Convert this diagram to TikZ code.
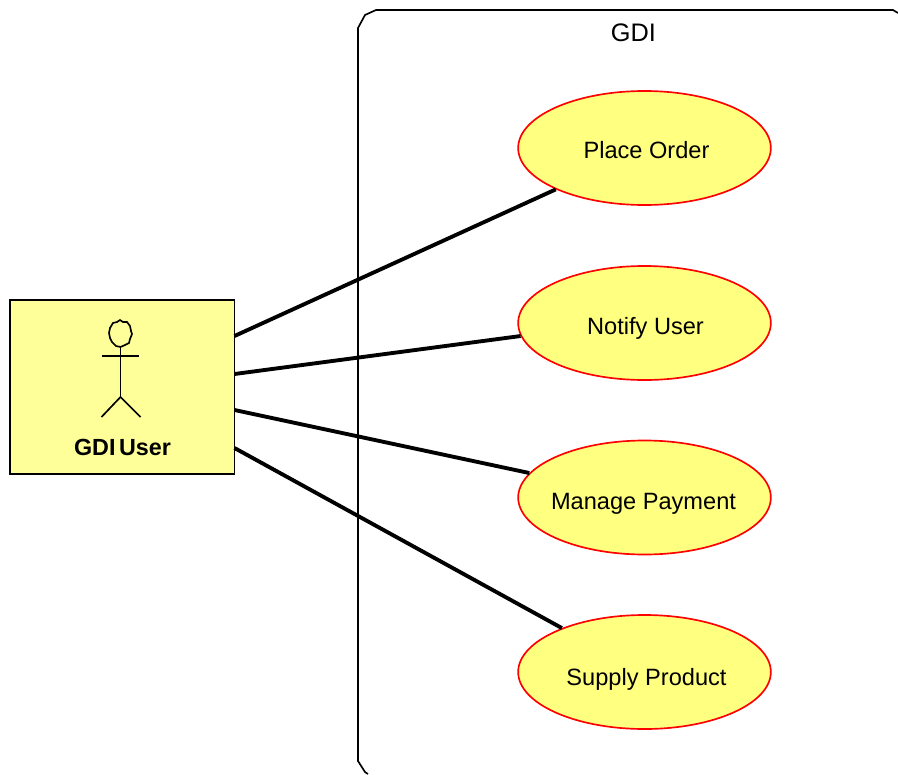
\documentclass[tikz,border=0pt]{standalone}
\usepackage{fontspec}
\setmainfont{Liberation Sans}
\usetikzlibrary{shapes.geometric}
\definecolor{usefill}{RGB}{255,255,128}
\definecolor{actorfill}{RGB}{255,255,153}
\newcommand{\tightwords}{\spaceskip=0.15em\relax}

\tikzset{
    usecase/.style={ellipse, draw=red, line width=1.25pt, fill=usefill,
        minimum width=189.5pt, minimum height=85.5pt, inner sep=0pt},
    actorbox/.style={rectangle, draw=black, line width=0.9pt, fill=actorfill,
        minimum width=168.5pt, minimum height=130.5pt, inner sep=0pt},
    assoc/.style={draw=black, line width=2.9pt},
    frameline/.style={draw=black, line width=1.25pt},
    stick/.style={draw=black, line width=1.25pt},
    textlabel/.style={font=\fontsize{17.7}{22}\selectfont, inner sep=0pt}
}

\begin{document}
\begin{tikzpicture}[x=0.75pt,y=-0.75pt]
    \useasboundingbox (0,0) rectangle (898,774);

    % system frame
    \draw[frameline] (898,13) -- (893,10) -- (376,10) -- (365,15) -- (358,28)
        -- (358,761) -- (365,772) -- (368,774);
    \node[textlabel, font=\fontsize{19}{23}\selectfont] (title) at (633.5,33) {GDI};

    % actor
    \node[actorbox] (user) at (122.25,387) {};
    \node[textlabel, font=\fontsize{17.5}{21}\selectfont\bfseries] (username) at (122.5,447) {\tightwords GDI User};
    \coordinate (neck) at (120.5,347);
    \coordinate (hip) at (120.5,397);
    \draw[stick] (120,320) -- (123,322) -- (127,322) -- (130,326) -- (131,331)
        -- (132,334) -- (130,339) -- (129,343) -- (125,345) -- (neck) -- (116,346)
        -- (112,342) -- (110,338) -- (109,333) -- (110,328) -- (113,323)
        -- (117,322) -- cycle;
    \draw[stick] (neck) -- (hip);
    \draw[stick] (101.5,356) -- (139,356);
    \draw[stick] (101.5,417) -- (hip) -- (140.5,417);

    % use cases
    \coordinate (a1) at (234.5,336);
    \coordinate (a2) at (234.5,374);
    \coordinate (a3) at (234.5,410);
    \coordinate (a4) at (234.5,448);

    \node[usecase] (place) at (644.5,148) {};
    \node[usecase] (notify) at (644.5,323) {};
    \node[usecase] (manage) at (644.5,497.5) {};
    \node[usecase] (supply) at (644.5,672) {};

    \node[textlabel] (placetext) at (646.5,150) {Place Order};
    \node[textlabel] (notifytext) at (645.5,328) {Notify User};
    \node[textlabel] (managetext) at (643.5,504) {Manage Payment};
    \node[textlabel] (supplytext) at (646.5,679) {Supply Product};

    \draw[assoc] (a1) -- (place.205);
    \draw[assoc] (a2) -- (notify.186);
    \draw[assoc] (a3) -- (manage.168.6);
    \draw[assoc] (a4) -- (supply.152);
\end{tikzpicture}
\end{document}
